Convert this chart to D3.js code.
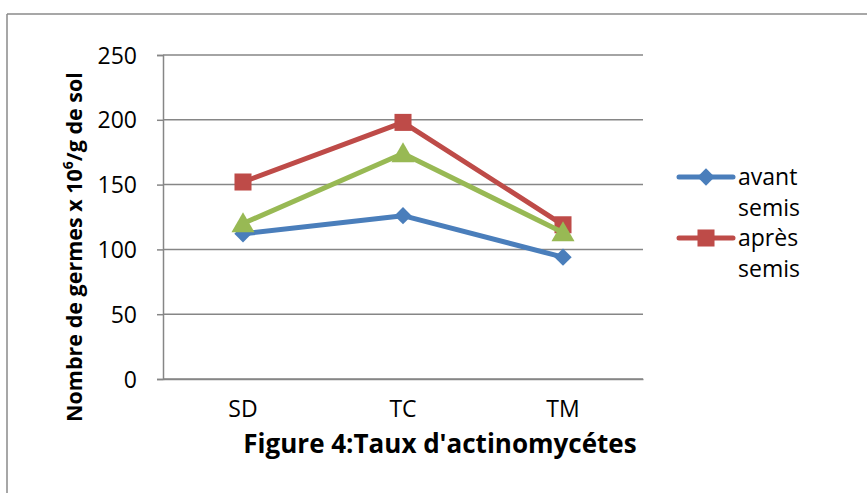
<!DOCTYPE html>
<html>
<head>
<meta charset="utf-8">
<script src="https://cdn.jsdelivr.net/npm/d3@7"></script>
<style>
  body { margin: 0; background: #fff; }
  svg text { font-family: "Open Sans", "Noto Sans", sans-serif; fill: #000; }
</style>
</head>
<body>
<svg id="chart" width="867" height="493"></svg>
<script>
// data
const categories = ["SD", "TC", "TM"];
const avantSemis = [112, 126, 94];
const apresSemis = [152, 198, 119];
const troisieme = [120, 174, 113];
const yTicks = [0, 50, 100, 150, 200, 250];

const series = [
    { name: ["avant", "semis"], values: avantSemis, color: "#4a7ebb", shape: "diamond", legend: true },
    { name: ["après", "semis"], values: apresSemis, color: "#be4b48", shape: "square", legend: true },
    { name: [], values: troisieme, color: "#98b954", shape: "triangle", legend: false }
];

const svg = d3.select("#chart");

// outer frame (only top and left edges visible)
svg.append("line").attr("x1", 7).attr("x2", 867).attr("y1", 14).attr("y2", 14)
    .attr("stroke", "#8a8a8a").attr("stroke-width", 1.5);
svg.append("line").attr("x1", 7).attr("x2", 7).attr("y1", 14).attr("y2", 493)
    .attr("stroke", "#8a8a8a").attr("stroke-width", 1.5);

const plot = { left: 163, right: 643, top: 55, bottom: 379 };

const x = d3.scaleBand()
    .domain(categories)
    .range([plot.left, plot.right]);

const y = d3.scaleLinear()
    .domain([0, 250])
    .range([plot.bottom, plot.top]);

// grid lines
svg.append("g")
    .selectAll("line")
    .data(yTicks)
    .join("line")
    .attr("x1", plot.left).attr("x2", plot.right)
    .attr("y1", d => y(d)).attr("y2", d => y(d))
    .attr("stroke", "#868686").attr("stroke-width", 1.5);

// y axis
const yAxis = svg.append("g")
    .attr("transform", `translate(${plot.left},0)`)
    .call(d3.axisLeft(y).tickValues(yTicks).tickSize(6).tickPadding(20));
yAxis.select(".domain").attr("stroke", "#868686").attr("stroke-width", 1.5);
yAxis.selectAll(".tick line").attr("stroke", "#868686").attr("stroke-width", 1.5);
yAxis.selectAll(".tick text")
    .style("font-size", "23px")
    .attr("dy", "0.35em");

// x axis
const xAxis = svg.append("g")
    .attr("transform", `translate(0,${plot.bottom})`)
    .call(d3.axisBottom(x).tickSize(0).tickPadding(22));
xAxis.select(".domain").attr("stroke", "#868686").attr("stroke-width", 1.5);
xAxis.selectAll(".tick text")
    .style("font-size", "23px");

// y axis title
const yTitle = svg.append("text")
    .attr("transform", "translate(82,247) rotate(-90)")
    .attr("text-anchor", "middle")
    .style("font-size", "21.5px")
    .style("font-weight", "bold");
yTitle.append("tspan").text("Nombre de germes x 10");
yTitle.append("tspan").text("6").attr("dy", -9).style("font-size", "14px");
yTitle.append("tspan").text("/g de sol").attr("dy", 9);

// figure caption
svg.append("text")
    .attr("x", 440).attr("y", 453)
    .attr("text-anchor", "middle")
    .style("font-size", "26px")
    .style("font-weight", "bold")
    .text("Figure 4:Taux d'actinomycétes");

const cx = d => x(d) + x.bandwidth() / 2;

const symbolFor = {
    diamond: d3.symbol().type(d3.symbolSquare).size(150),
    square: d3.symbol().type(d3.symbolSquare).size(290),
    triangle: d3.symbol().type(d3.symbolTriangle).size(230)
};
const rot = s => s === "diamond" ? " rotate(45)" : "";

const line = d3.line()
    .x((d, i) => cx(categories[i]))
    .y(d => y(d));

series.forEach(s => {
    const g = svg.append("g");
    g.append("path")
        .datum(s.values)
        .attr("d", line)
        .attr("fill", "none")
        .attr("stroke", s.color)
        .attr("stroke-width", 5)
        .attr("stroke-linejoin", "round");
    g.selectAll("path.mark")
        .data(s.values)
        .join("path")
        .attr("class", "mark")
        .attr("d", symbolFor[s.shape])
        .attr("transform", (d, i) => `translate(${cx(categories[i])},${y(d) + (s.shape === "triangle" ? 2 : 0)})` + rot(s.shape))
        .attr("fill", s.color);
});

// legend
const legendRows = series.filter(s => s.legend);
const legend = svg.append("g");
legendRows.forEach((s, i) => {
    const ly = 177 + i * 61;
    legend.append("line")
        .attr("x1", 679).attr("x2", 733)
        .attr("y1", ly).attr("y2", ly)
        .attr("stroke", s.color).attr("stroke-width", 5)
        .attr("stroke-linecap", "round");
    legend.append("path")
        .attr("d", symbolFor[s.shape])
        .attr("transform", `translate(706,${ly})` + rot(s.shape))
        .attr("fill", s.color);
    s.name.forEach((t, j) => {
        legend.append("text")
            .attr("x", 738).attr("y", ly + 8 + j * 31)
            .style("font-size", "23px")
            .text(t);
    });
});
</script>
</body>
</html>
